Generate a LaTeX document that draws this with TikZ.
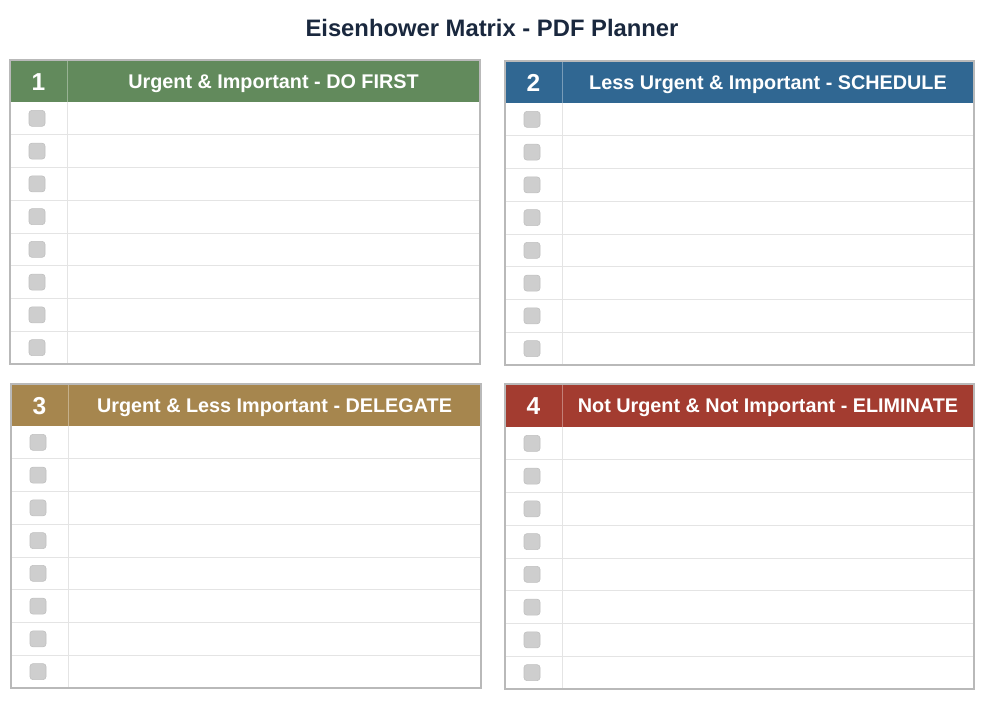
\documentclass[tikz,border=0pt]{standalone}
\usepackage{fontspec}
\setmainfont{Liberation Sans}
\definecolor{qgreen}{RGB}{98,138,92}
\definecolor{qblue}{RGB}{48,103,146}
\definecolor{qgold}{RGB}{166,134,78}
\definecolor{qred}{RGB}{163,60,48}
\definecolor{titlecol}{RGB}{26,40,62}
\definecolor{gridline}{RGB}{228,228,228}
\definecolor{framecol}{RGB}{185,185,185}
\definecolor{boxfill}{RGB}{206,206,206}
\definecolor{boxdraw}{RGB}{192,192,192}
\tikzset{
  hdrtext/.style={text=white, font=\bfseries\fontsize{19.8}{22}\selectfont, text height=14.3pt, text depth=0pt, inner sep=0pt},
  numtext/.style={text=white, font=\bfseries\fontsize{24.5}{27}\selectfont, text height=17.6pt, text depth=0pt, inner sep=0pt},
  titletext/.style={text=titlecol, font=\bfseries\fontsize{23.8}{26}\selectfont, text height=17.1pt, text depth=0pt, inner sep=0pt},
  chk/.style={fill=boxfill, draw=boxdraw, line width=0.6pt, rounded corners=3pt, minimum size=16pt, inner sep=0pt},
  gridl/.style={draw=gridline, line width=0.8pt},
  framel/.style={draw=framecol, line width=1.2pt},
  hdrdiv/.style={draw=white, draw opacity=0.35, line width=0.8pt},
}
% #1 x0, #2 y0, #3 x1, #4 header bottom, #5 y1, #6 colour, #7 number, #8 text, #9 name
\newcommand\quadpanel[9]{%
  \fill[#6] (#1,#2) rectangle (#3,#4);
  \draw[gridl] (#1+57,#4) -- (#1+57,#5);
  \foreach \i in {1,...,7}{%
    \pgfmathsetmacro\yy{#4+\i*(#5-#4)/8}
    \draw[gridl] (#1,\yy) -- (#3,\yy);
  }
  \foreach \i in {0,...,7}{%
    \pgfmathsetmacro\yy{#4+(\i+0.5)*(#5-#4)/8}
    \node[chk] (#9c\i) at (#1+27,\yy) {};
  }
  \draw[hdrdiv] (#1+57,#2) -- (#1+57,#4);
  \node[numtext] (#9n) at (#1+28.5,{(#2+#4)/2+0.5}) {#7};
  \node[hdrtext] (#9t) at ({(#1+57+#3)/2},{(#2+#4)/2}) {#8};
  \draw[framel] (#1,#2) rectangle (#3,#5);
}
\begin{document}
\begin{tikzpicture}[x=1pt,y=-1pt]
  \useasboundingbox[fill=white] (0,0) rectangle (983,701);
  \node[titletext] (title) at (492,28) {Eisenhower Matrix - PDF Planner};
  \quadpanel{10}{60}{480}{102}{364}{qgreen}{1}{Urgent \& Important - DO FIRST}{qa}
  \quadpanel{505}{61}{974}{103}{365}{qblue}{2}{Less Urgent \& Important - SCHEDULE}{qb}
  \quadpanel{11}{384}{481}{426}{688}{qgold}{3}{Urgent \& Less Important - DELEGATE}{qc}
  \quadpanel{505}{384}{974}{427}{689}{qred}{4}{Not Urgent \& Not Important - ELIMINATE}{qd}
\end{tikzpicture}
\end{document}
